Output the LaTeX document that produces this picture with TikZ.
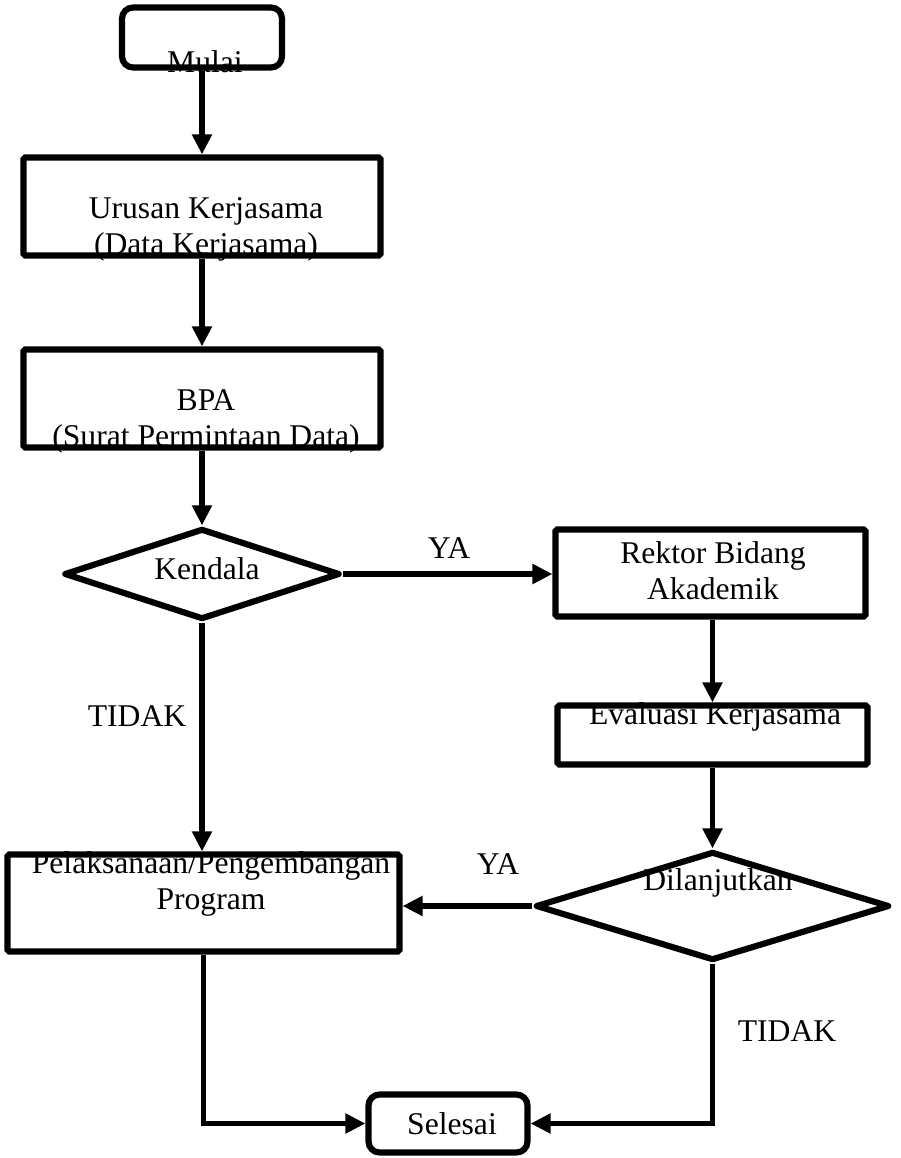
\documentclass[tikz,border=0pt]{standalone}
\usepackage{fontspec}
\setmainfont{Liberation Serif}
\usetikzlibrary{shapes.geometric, arrows.meta}
\tikzset{
    flow line/.style={line width=3.2pt, -{Triangle[length=0.4cm, width=0.38cm]}},
    terminal node/.style={draw, line width=3.5pt, rounded corners=0.22cm, inner sep=0pt},
    process node/.style={draw, line width=3.5pt, rounded corners=1pt, inner sep=0pt},
    decision node/.style={diamond, draw, line width=3.5pt, line join=round, inner sep=0pt},
    box text/.style={font=\fontsize{18}{20.5}\selectfont, align=center, inner sep=0pt},
    edge label/.style={font=\fontsize{18}{20.5}\selectfont, inner sep=0pt},
}

\begin{document}
\begin{tikzpicture}[x=0.02cm, y=-0.02cm]
    \useasboundingbox (0,0) rectangle (901,1158);
    % shapes
    \node[terminal node, minimum width=3.2cm, minimum height=1.2cm] (mulai) at (202,37.5) {};
    \node[process node, minimum width=7.14cm, minimum height=1.96cm] (urusan) at (202,206.5) {};
    \node[process node, minimum width=7.14cm, minimum height=1.96cm] (bpa) at (202,398.5) {};
    \node[decision node, minimum width=5.52cm, minimum height=1.82cm] (kendala) at (202,574) {};
    \node[process node, minimum width=6.2cm, minimum height=1.74cm] (rektor) at (710.5,573) {};
    \node[process node, minimum width=6.2cm, minimum height=1.18cm] (evaluasi) at (712.5,735) {};
    \node[decision node, minimum width=7.08cm, minimum height=2.18cm] (lanjut) at (712.5,906) {};
    \node[process node, minimum width=7.84cm, minimum height=1.94cm] (pelaksanaan) at (203.5,903) {};
    \node[terminal node, minimum width=3.18cm, minimum height=1.16cm] (selesai) at (448,1123.5) {};
    % texts
    \node[box text] (mulai-txt) at (205,62) {Mulai};
    \node[box text] (urusan-txt) at (206,229) {Urusan Kerjasama\\(Data Kerjasama)};
    \node[box text] (bpa-txt) at (206,421) {BPA\\(Surat Permintaan Data)};
    \node[box text] (kendala-txt) at (207,569) {Kendala};
    \node[box text] (rektor-txt) at (713,571) {Rektor Bidang\\Akademik};
    \node[box text] (evaluasi-txt) at (715,717) {Evaluasi Kerjasama};
    \node[box text] (lanjut-txt) at (718,883) {Dilanjutkan};
    \node[box text] (pelaksanaan-txt) at (211,884) {Pelaksanaan/Pengembangan\\Program};
    \node[box text] (selesai-txt) at (452,1124) {Selesai};
    % connectors
    \foreach \a/\b in {mulai/urusan, urusan/bpa, bpa/kendala, kendala/pelaksanaan} {
        \draw[flow line] (\a.south) -- (\a.south |- \b.north);
    }
    \draw[flow line] (kendala.east) -- (rektor.west |- kendala.east);
    \draw[flow line] (rektor.south -| lanjut.north) -- (evaluasi.north -| lanjut.north);
    \draw[flow line] (evaluasi.south -| lanjut.north) -- (lanjut.north);
    \draw[flow line] (lanjut.west) -- (pelaksanaan.east |- lanjut.west);
    \draw[flow line] (pelaksanaan.south) |- (selesai.west);
    \draw[flow line] (lanjut.south) |- (selesai.east);
    \node[edge label] (ya-kendala) at (449,548) {YA};
    \node[edge label] (tidak-kendala) at (137,716) {TIDAK};
    \node[edge label] (ya-lanjut) at (498,864) {YA};
    \node[edge label] (tidak-lanjut) at (787,1031) {TIDAK};
\end{tikzpicture}
\end{document}
